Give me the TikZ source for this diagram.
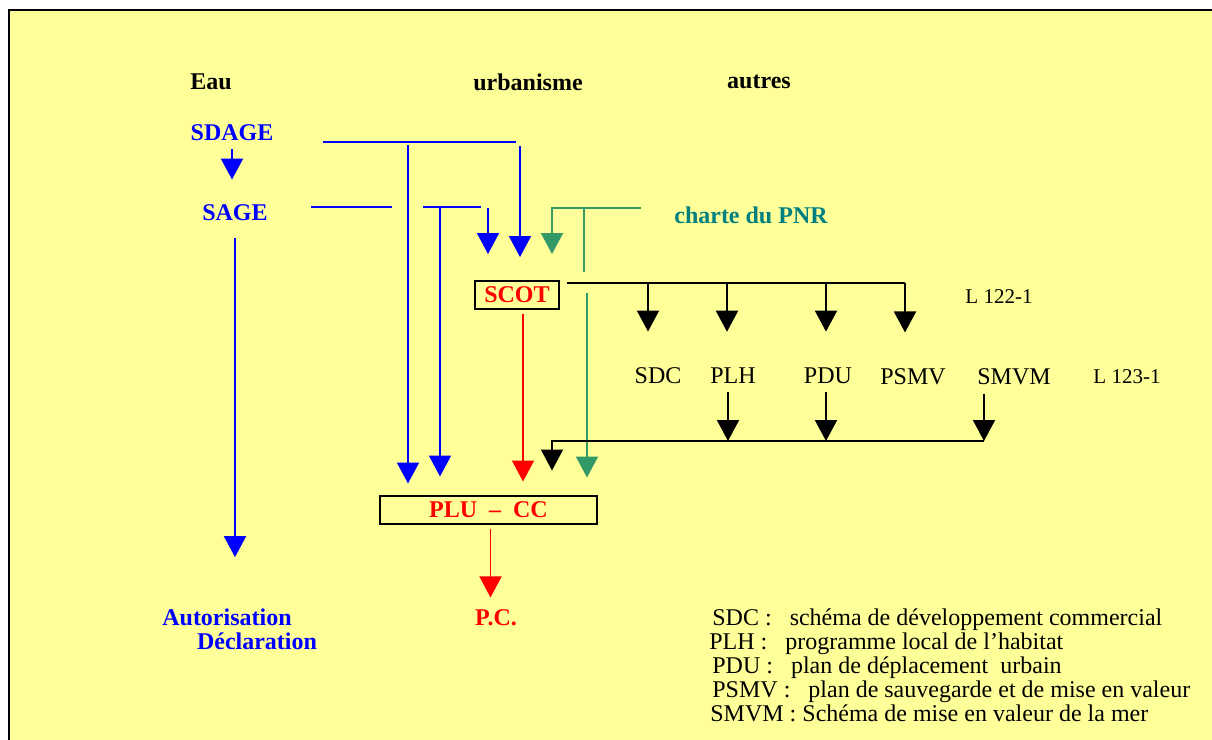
\documentclass[tikz,border=0pt]{standalone}
\usepackage{fontspec}
\setmainfont{Liberation Serif}
\usetikzlibrary{positioning,arrows.meta}
\definecolor{fond}{HTML}{FFFF99}
\definecolor{vert}{HTML}{339966}
\definecolor{sarcelle}{HTML}{008080}

\begin{document}
\begin{tikzpicture}[
  x=0.5pt, y=-0.5pt,
  txt/.style={font=\fontsize{12pt}{14pt}\selectfont, inner sep=4pt},
  hdr/.style={txt, font=\fontsize{12pt}{14pt}\selectfont\bfseries},
  eau/.style={hdr, text=blue},
  urb/.style={hdr, text=red},
  art/.style={txt, font=\fontsize{10.5pt}{12pt}\selectfont},
  cadre/.style={draw, line width=1pt, minimum height=14pt, inner sep=1pt,
                font=\fontsize{12pt}{14pt}\selectfont\bfseries, text=red},
  leg/.style={txt, anchor=base west},
  tip/.style={-{Triangle[length=10.5pt,width=11pt]}},
  bline/.style={blue, line width=1pt},
  gline/.style={vert, line width=1pt},
  kline/.style={black, line width=1pt},
  barr/.style={bline, tip},
  garr/.style={gline, tip},
  karr/.style={kline, tip},
  rarr/.style={red, line width=0.8pt, tip}
]
\useasboundingbox (0,0) rectangle (1212,740);
\fill[fond] (9,10) rectangle (1212,740);
\draw[line width=1pt] (9,740) -- (9,10) -- (1212,10);

% ===== Headers =====
\node[hdr] (eau)    at (211,82) {Eau};
\node[hdr] (urba)   at (528,82) {urbanisme};
\node[hdr] (autres) at (759,82) {autres};

% ===== Eau column =====
\node[eau] (sdage) at (232,133) {SDAGE};
\node[eau] (sage)  at (235,213) {SAGE};
\node[eau] (autor) at (227,617) {Autorisation};
\node[eau] (decl)  at (257,641) {Déclaration};
\draw[barr, shorten >=8.5pt] (sdage.south) -- (sdage.south |- sage.north);
\draw[barr, shorten <=4.5pt, shorten >=21.5pt] (sage.south) -- (sage.south |- autor.north);

% ===== Urbanisme column =====
\node[cadre, minimum width=42pt]    (scot) at (517,295)     {SCOT};
\node[cadre, minimum width=108.5pt] (plu)  at (488.5,509.5) {PLU\ \ –\ \ CC};
\node[urb] (pc) at (496,618) {P.C.};

% ===== Autres =====
\node[hdr, text=sarcelle] (pnr) at (751,215) {charte du PNR};
\node[art] (l122) at (999,297)  {L 122-1};
\node[txt] (sdc)  at (658,376)  {SDC};
\node[txt] (plh)  at (733,376)  {PLH};
\node[txt] (pdu)  at (828,376)  {PDU};
\node[txt] (psmv) at (913,377)  {PSMV};
\node[txt] (smvm) at (1014,377) {SMVM};
\node[art] (l123) at (1127,377) {L 123-1};

% ===== Legend =====
\node[leg] (leg1) at (704,625) {SDC :\ \ \ schéma de développement commercial};
\node[leg] (leg2) at (701,649) {PLH :\ \ \ programme local de l’habitat};
\node[leg] (leg3) at (704,673) {PDU :\ \ \ plan de déplacement\ \ urbain};
\node[leg] (leg4) at (704,697) {PSMV :\ \ \ plan de sauvegarde et de mise en valeur};
\node[leg] (leg5) at (702,721) {SMVM : Schéma de mise en valeur de la mer};

% ===== SDAGE links =====
\coordinate (sdA) at (323,142);
\coordinate (sdB) at (516,142);
\coordinate (sdC) at (408,145);
\coordinate (sdD) at (520,146);
\draw[bline] (sdA) -- (sdB);
\draw[barr, shorten >=5.5pt]  (sdC) -- (sdC |- plu.north);
\draw[barr, shorten >=11.5pt] (sdD) -- (sdD |- scot.north);

% ===== SAGE links =====
\coordinate (saA) at (311,207);
\coordinate (saB) at (392,207);
\coordinate (saC) at (423,207);
\coordinate (saD) at (481,207);
\coordinate (saE) at (440,207);
\coordinate (saF) at (488,208);
\draw[bline] (saA) -- (saB);
\draw[bline] (saC) -- (saD);
\draw[barr, shorten >=9pt]  (saE) -- (saE |- plu.north);
\draw[barr, shorten >=13pt] (saF) -- (saF |- scot.north);

% ===== PNR links =====
\coordinate (pnA) at (552,208);
\coordinate (pnB) at (641,208);
\coordinate (pnC) at (584,208);
\coordinate (pnD) at (584,272);
\coordinate (pnE) at (587,293);
\draw[garr, shorten >=13pt] (pnB) -- (pnA) -- (pnA |- scot.north);
\draw[gline] (pnC) -- (pnD);
\draw[garr, shorten >=8.5pt] (pnE) -- (pnE |- plu.north);

% ===== SCOT -> documents (L 122-1) =====
\coordinate (kA) at (567,283);
\coordinate (k1) at (648,283);
\coordinate (k2) at (727,283);
\coordinate (k3) at (826,283);
\coordinate (k4) at (905,283);
\draw[kline] (kA) -- (k4);
\draw[karr, shorten >=14pt] (k1) -- (k1 |- sdc.north);
\draw[karr, shorten >=14pt] (k2) -- (k2 |- plh.north);
\draw[karr, shorten >=14pt] (k3) -- (k3 |- pdu.north);
\draw[karr, shorten >=14pt] (k4) -- (k4 |- psmv.north);

% ===== documents -> PLU (L 123-1) =====
\coordinate (b0) at (552,441);
\coordinate (b1) at (728,441);
\coordinate (b2) at (826,441);
\coordinate (b3) at (984,441);
\draw[karr] (b1 |- plh.south) -- (b1);
\draw[karr] (b2 |- pdu.south) -- (b2);
\draw[karr] (b3 |- smvm.south) -- (b3);
\draw[karr, shorten >=12pt] (b3) -- (b0) -- (b0 |- plu.north);

% ===== SCOT -> PLU -> P.C. =====
\coordinate (rs) at ([xshift=3pt]scot.south);
\coordinate (rp) at ([xshift=1pt]plu.south);
\draw[rarr, shorten <=2pt, shorten >=6.5pt] (rs) -- (rs |- plu.north);
\draw[rarr, shorten <=2pt, shorten >=2pt]   (rp) -- (rp |- pc.north);

\end{tikzpicture}
\end{document}
